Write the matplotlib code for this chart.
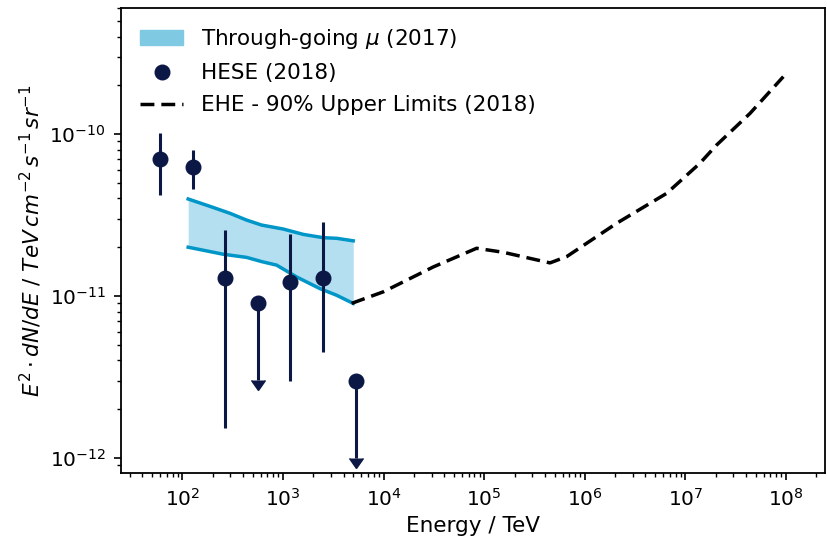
import numpy as np
import matplotlib
matplotlib.use('Agg')
import matplotlib.pyplot as plt
import matplotlib.ticker as mtp_ticker
from matplotlib.patches import Patch
from matplotlib.lines import Line2D

#### DATA ####
# HESE (2018) points, energy in TeV, flux in TeV cm^-2 s^-1 sr^-1
hese_e = [60, 126, 265, 1180, 2510]
hese_flux = [7.0e-11, 6.3e-11, 1.29e-11, 1.22e-11, 1.29e-11]
hese_up = [1.02e-10, 8.0e-11, 2.55e-11, 2.41e-11, 2.85e-11]
hese_lo = [4.2e-11, 4.6e-11, 1.53e-12, 3.0e-12, 4.5e-12]

# HESE bins that only give upper limits
hese_ul_e = [560, 5300]
hese_ul_flux = [9.0e-12, 3.0e-12]
ul_frac = 0.334   # arrow length as fraction of the limit

# through-going muon band
band_up_e = [114, 202, 296, 435, 612, 1004, 1588, 2509, 3410, 4988]
band_up = [3.97e-11, 3.52e-11, 3.24e-11, 2.94e-11, 2.74e-11, 2.59e-11, 2.40e-11, 2.29e-11, 2.27e-11, 2.19e-11]
band_lo_e = [114, 254, 435, 612, 864, 1365, 2327, 3410, 4988]
band_lo = [2.0e-11, 1.81e-11, 1.73e-11, 1.63e-11, 1.55e-11, 1.31e-11, 1.11e-11, 1.01e-11, 8.99e-12]

# EHE 90% upper limits
ehe_e = [4.8e3, 9.9e3, 3.11e4, 8.4e4, 1.55e5, 4.5e5, 6.6e5, 2.07e6, 6.5e6, 1.39e7, 2.04e7, 4.38e7, 9.4e7]
ehe_flux = [9.0e-12, 1.06e-11, 1.51e-11, 1.97e-11, 1.86e-11, 1.60e-11, 1.75e-11, 2.81e-11, 4.30e-11, 6.59e-11, 8.55e-11, 1.34e-10, 2.26e-10]

navy = '#0b1846'
band_edge = '#0096c8'
band_fill = '#b3dff0'

#### FIGURE ####
fig = plt.figure(figsize=(8.27, 5.47), dpi=100)
ax = fig.add_axes([0.1463, 0.1353, 0.8513, 0.8501])
ax.set_xscale('log')
ax.set_yscale('log')
for s in ax.spines.values():
    s.set_linewidth(1.3)

# band: fill on a common grid, then both edges
grid = np.logspace(np.log10(band_up_e[0]), np.log10(band_up_e[-1]), 200)
up_i = 10 ** np.interp(np.log10(grid), np.log10(band_up_e), np.log10(band_up))
lo_i = 10 ** np.interp(np.log10(grid), np.log10(band_lo_e), np.log10(band_lo))
ax.fill_between(grid, lo_i, up_i, color=band_fill, lw=0, zorder=1)
ax.plot(band_up_e, band_up, color=band_edge, lw=2.5, zorder=2)
ax.plot(band_lo_e, band_lo, color=band_edge, lw=2.5, zorder=2)

# EHE limits
ax.plot(ehe_e, ehe_flux, color='black', lw=2.5, linestyle=(0, (4, 2)), zorder=2)

# HESE points
hese_flux = np.array(hese_flux)
yerr = [hese_flux - np.array(hese_lo), np.array(hese_up) - hese_flux]
ax.errorbar(hese_e, hese_flux, yerr=yerr, fmt='o', color=navy, ms=10.5,
            elinewidth=2.2, capsize=0, zorder=3)
ul = np.array(hese_ul_flux)
ax.errorbar(hese_ul_e, ul, yerr=ul * (1 - ul_frac), uplims=True, fmt='o',
            color=navy, ms=10.5, elinewidth=2.2, capsize=5, zorder=3)

ax.set_xlim(24.5, 2.44e8)
ax.set_ylim(8.07e-13, 6.0e-10)
ax.xaxis.set_minor_formatter(mtp_ticker.NullFormatter())
ax.yaxis.set_minor_formatter(mtp_ticker.NullFormatter())
ax.tick_params(which='major', labelsize=14.5, length=5, width=1.2, pad=6)
ax.tick_params(which='minor', length=3, width=1.0)
ax.set_xlabel('Energy / TeV', fontsize=15.5, labelpad=4)
ax.set_ylabel(r'$E^2 \cdot dN/dE\ /\ TeV\,cm^{-2}\,s^{-1}\,sr^{-1}$', fontsize=15.5)

handles = [Patch(color='#7fc9e3'),
           Line2D([], [], marker='o', ls='none', color=navy, ms=10.5),
           Line2D([], [], color='black', lw=2.5, linestyle=(0, (4, 2)))]
labels = [r'Through-going $\mu$ (2017)', 'HESE (2018)', 'EHE - 90% Upper Limits (2018)']
ax.legend(handles, labels, loc='upper left', frameon=False, fontsize=15.5,
          labelspacing=0.55, handlelength=2.0)

fig.savefig('out.png', dpi=100)
